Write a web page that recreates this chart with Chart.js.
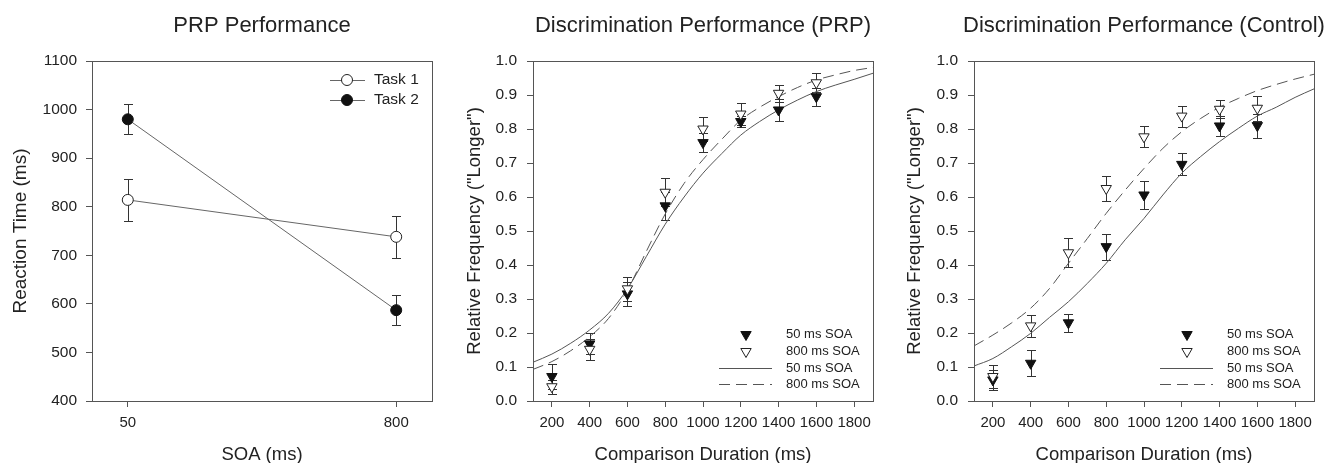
<!DOCTYPE html>
<html>
<head>
<meta charset="utf-8">
<title>PRP and discrimination performance</title>
<script src="https://cdn.jsdelivr.net/npm/chart.js@4.4.1/dist/chart.umd.min.js"></script>
<style>
    html, body { margin: 0; padding: 0; background: #fff; width: 1326px; height: 463px; overflow: hidden; }
    .panel { position: absolute; top: 0; width: 442px; height: 470px; }
</style>
</head>
<body>
<div class="panel" style="left:0px"><canvas id="prp-chart" width="442" height="470"></canvas></div>
<div class="panel" style="left:442px"><canvas id="disc-prp-chart" width="442" height="470"></canvas></div>
<div class="panel" style="left:884px"><canvas id="disc-control-chart" width="442" height="470"></canvas></div>
<script>
// --- dados: painel 1 (tempo de reação) ---
const soaLevels = [50, 800];
const soaTicks = [50, 800];
const rtTicks = [400, 500, 600, 700, 800, 900, 1000, 1100];
const task1RT = [814, 738];
const task1Err = [43, 43];
const task2RT = [980, 587];
const task2Err = [31, 31];

// --- dados: painéis 2 e 3 (discriminação) ---
const durations = [200, 400, 600, 800, 1000, 1200, 1400, 1600];
const durationTicks = [200, 400, 600, 800, 1000, 1200, 1400, 1600, 1800];
const freqTicks = [0, 0.1, 0.2, 0.3, 0.4, 0.5, 0.6, 0.7, 0.8, 0.9, 1.0];
const curveDurations = [100, 200, 300, 400, 500, 600, 700, 800, 900, 1000,
                        1100, 1200, 1300, 1400, 1500, 1600, 1700, 1800, 1900];

// PRP
const prpSoa50 = [0.072, 0.168, 0.315, 0.574, 0.760, 0.822, 0.856, 0.895];
const prpSoa50Err = [0.038, 0.031, 0.035, 0.042, 0.029, 0.016, 0.033, 0.027];
const prpSoa800 = [0.042, 0.152, 0.330, 0.614, 0.800, 0.844, 0.905, 0.936];
const prpSoa800Err = [0.020, 0.030, 0.035, 0.041, 0.035, 0.033, 0.025, 0.028];
const prpFit50 = [0.114, 0.138, 0.170, 0.209, 0.258, 0.330, 0.425, 0.520, 0.600, 0.670,
                  0.728, 0.782, 0.822, 0.856, 0.885, 0.910, 0.929, 0.946, 0.964];
const prpFit800 = [0.093, 0.116, 0.148, 0.189, 0.243, 0.326, 0.440, 0.550, 0.640, 0.710,
                   0.770, 0.826, 0.864, 0.895, 0.922, 0.944, 0.959, 0.972, 0.981];

// Controle
const ctlSoa50 = [0.062, 0.111, 0.230, 0.454, 0.606, 0.696, 0.809, 0.810];
const ctlSoa50Err = [0.030, 0.038, 0.026, 0.038, 0.041, 0.032, 0.029, 0.035];
const ctlSoa800 = [0.072, 0.221, 0.436, 0.625, 0.777, 0.838, 0.858, 0.861];
const ctlSoa800Err = [0.035, 0.033, 0.043, 0.037, 0.031, 0.031, 0.026, 0.037];
const ctlFit50 = [0.103, 0.125, 0.160, 0.199, 0.246, 0.292, 0.346, 0.405, 0.474, 0.537,
                  0.606, 0.670, 0.719, 0.763, 0.802, 0.838, 0.864, 0.893, 0.918];
const ctlFit800 = [0.162, 0.194, 0.230, 0.273, 0.331, 0.405, 0.478, 0.552, 0.620, 0.684,
                   0.743, 0.792, 0.831, 0.864, 0.890, 0.913, 0.931, 0.947, 0.961];

Chart.defaults.font.family = '"Liberation Sans", Arial, sans-serif';
Chart.defaults.color = '#222';

const AXIS_COLOR = '#555';
const pairs = (xs, ys) => xs.map((x, i) => ({ x: x, y: ys[i] }));

// desenha um marcador igual ao do Chart.js (usado na legenda)
function drawMarker(ctx, ds, x, y) {
    const r = ds.pointRadius;
    ctx.save();
    ctx.fillStyle = ds.pointBackgroundColor;
    ctx.strokeStyle = ds.pointBorderColor;
    ctx.lineWidth = ds.pointBorderWidth;
    ctx.beginPath();
    if (ds.pointStyle === 'triangle') {
        ctx.moveTo(x, y + r);
        ctx.lineTo(x - r * 0.866, y - r * 0.5);
        ctx.lineTo(x + r * 0.866, y - r * 0.5);
        ctx.closePath();
    } else {
        ctx.arc(x, y, r, 0, Math.PI * 2);
    }
    ctx.fill();
    ctx.stroke();
    ctx.restore();
}

const errorBarPlugin = {
    id: 'errorBars',
    beforeDatasetsDraw(chart, args, opts) {
        const ctx = chart.ctx;
        const xScale = chart.scales.x;
        const yScale = chart.scales.y;
        ctx.save();
        ctx.strokeStyle = '#333';
        ctx.lineWidth = 1;
        opts.sets.forEach(set => {
            chart.data.datasets[set.dataset].data.forEach((pt, i) => {
                const x = Math.round(xScale.getPixelForValue(pt.x)) + 0.5;
                const yTop = Math.round(yScale.getPixelForValue(pt.y + set.err[i])) + 0.5;
                const yBot = Math.round(yScale.getPixelForValue(pt.y - set.err[i])) + 0.5;
                ctx.beginPath();
                ctx.moveTo(x, yTop); ctx.lineTo(x, yBot);
                ctx.moveTo(x - 4.5, yTop); ctx.lineTo(x + 4.5, yTop);
                ctx.moveTo(x - 4.5, yBot); ctx.lineTo(x + 4.5, yBot);
                ctx.stroke();
            });
        });
        ctx.restore();
    }
};

// moldura completa + título centralizado sobre a área do gráfico + legenda interna
const decorPlugin = {
    id: 'decor',
    afterDraw(chart, args, opts) {
        const ctx = chart.ctx;
        const a = chart.chartArea;
        ctx.save();
        ctx.strokeStyle = AXIS_COLOR;
        ctx.lineWidth = 1;
        ctx.strokeRect(Math.round(a.left) + 0.5, Math.round(a.top) + 0.5,
                       Math.round(a.right - a.left), Math.round(a.bottom - a.top));

        ctx.fillStyle = '#222';
        ctx.font = '22px "Liberation Sans", Arial, sans-serif';
        ctx.textAlign = 'center';
        ctx.textBaseline = 'alphabetic';
        ctx.fillText(opts.title, (a.left + a.right) / 2, 31.5);

        const lg = opts.legend;
        ctx.font = lg.fontSize + 'px "Liberation Sans", Arial, sans-serif';
        ctx.textAlign = 'left';
        ctx.textBaseline = 'middle';
        lg.items.forEach((item, i) => {
            const ds = chart.data.datasets[item.dataset];
            const y = (lg.fromTop ? a.top : a.bottom) + lg.rows[i];
            if (ds.showLine) {
                ctx.save();
                ctx.strokeStyle = ds.borderColor;
                ctx.lineWidth = ds.borderWidth;
                ctx.setLineDash(ds.borderDash || []);
                ctx.beginPath();
                ctx.moveTo(a.right + lg.lineFrom, Math.round(y) + 0.5);
                ctx.lineTo(a.right + lg.lineTo, Math.round(y) + 0.5);
                ctx.stroke();
                ctx.restore();
            }
            if (ds.pointRadius > 0) {
                drawMarker(ctx, ds, a.right + lg.markerX, y);
            }
            ctx.fillStyle = '#222';
            ctx.fillText(item.label, a.right + lg.textX, y);
        });
        ctx.restore();
    }
};

function buildAxes(cfg) {
    return {
        x: {
            type: 'linear',
            min: cfg.xMin,
            max: cfg.xMax,
            afterBuildTicks: axis => { axis.ticks = cfg.xTicks.map(v => ({ value: v })); },
            afterFit: axis => { axis.height = 69; },
            ticks: { autoSkip: false, maxRotation: 0, padding: 7, color: '#222',
                     font: { size: 15 }, callback: cfg.xFormat },
            grid: { drawOnChartArea: false, tickLength: 6, color: AXIS_COLOR },
            border: { color: AXIS_COLOR },
            title: { display: true, text: cfg.xTitle, color: '#222',
                     font: { size: 18.5 }, padding: { top: 0, bottom: 4 } }
        },
        y: {
            type: 'linear',
            min: cfg.yMin,
            max: cfg.yMax,
            afterBuildTicks: axis => { axis.ticks = cfg.yTicks.map(v => ({ value: v })); },
            afterFit: axis => { axis.width = cfg.yWidth; },
            ticks: { autoSkip: false, padding: cfg.yPad, color: '#222',
                     font: { size: 15.5 }, callback: cfg.yFormat },
            grid: { drawOnChartArea: false, tickLength: 6, color: AXIS_COLOR },
            border: { color: AXIS_COLOR },
            title: { display: true, text: cfg.yTitle, color: '#222',
                     font: { size: cfg.yTitleSize }, padding: { top: 0, bottom: 0 } }
        }
    };
}

function baseOptions(cfg) {
    return {
        responsive: false,
        animation: false,
        events: [],
        layout: { padding: { top: 61, left: cfg.padLeft, right: cfg.padRight, bottom: 0 } },
        scales: buildAxes(cfg),
        plugins: {
            legend: { display: false },
            tooltip: { enabled: false },
            errorBars: { sets: cfg.errorSets },
            decor: { title: cfg.title, legend: cfg.legend }
        }
    };
}

// --- painel 1: PRP Performance ---
new Chart(document.getElementById('prp-chart'), {
    type: 'scatter',
    data: {
        datasets: [
            {
                label: 'Task 1',
                data: pairs(soaLevels, task1RT),
                showLine: true,
                borderColor: '#666',
                borderWidth: 1,
                pointStyle: 'circle',
                pointRadius: 5.5,
                pointBackgroundColor: '#fff',
                pointBorderColor: '#222',
                pointBorderWidth: 1,
                order: 1
            },
            {
                label: 'Task 2',
                data: pairs(soaLevels, task2RT),
                showLine: true,
                borderColor: '#666',
                borderWidth: 1,
                pointStyle: 'circle',
                pointRadius: 5.5,
                pointBackgroundColor: '#111',
                pointBorderColor: '#111',
                pointBorderWidth: 1,
                order: 2
            }
        ]
    },
    options: baseOptions({
        title: 'PRP Performance',
        xMin: -50, xMax: 900, xTicks: soaTicks, xTitle: 'SOA (ms)',
        xFormat: v => String(v),
        yMin: 400, yMax: 1100, yTicks: rtTicks, yTitle: 'Reaction Time (ms)', yTitleSize: 19,
        yFormat: v => String(v),
        padLeft: 9, padRight: 10, yWidth: 83, yPad: 9,
        errorSets: [{ dataset: 0, err: task1Err }, { dataset: 1, err: task2Err }],
        legend: {
            fromTop: true, fontSize: 15.5,
            rows: [19, 39], lineFrom: -102, lineTo: -67, markerX: -85, textX: -58,
            items: [{ dataset: 0, label: 'Task 1' }, { dataset: 1, label: 'Task 2' }]
        }
    }),
    plugins: [errorBarPlugin, decorPlugin]
});

// --- painéis 2 e 3: curvas psicométricas ---
function discriminationChart(canvasId, title, soa50, soa50Err, soa800, soa800Err, fit50, fit800, layout) {
    return new Chart(document.getElementById(canvasId), {
        type: 'scatter',
        data: {
            datasets: [
                {
                    label: '800 ms SOA',
                    data: pairs(durations, soa800),
                    pointStyle: 'triangle',
                    rotation: 180,
                    pointRadius: 6,
                    pointBackgroundColor: '#fff',
                    pointBorderColor: '#222',
                    pointBorderWidth: 1,
                    order: 1
                },
                {
                    label: '50 ms SOA',
                    data: pairs(durations, soa50),
                    pointStyle: 'triangle',
                    rotation: 180,
                    pointRadius: 6,
                    pointBackgroundColor: '#111',
                    pointBorderColor: '#111',
                    pointBorderWidth: 1,
                    order: 2
                },
                {
                    label: '50 ms SOA fit',
                    data: pairs(curveDurations, fit50),
                    showLine: true,
                    pointRadius: 0,
                    borderColor: '#555',
                    borderWidth: 1,
                    cubicInterpolationMode: 'monotone',
                    order: 3
                },
                {
                    label: '800 ms SOA fit',
                    data: pairs(curveDurations, fit800),
                    showLine: true,
                    pointRadius: 0,
                    borderColor: '#555',
                    borderWidth: 1,
                    borderDash: [11, 6],
                    cubicInterpolationMode: 'monotone',
                    order: 4
                }
            ]
        },
        options: baseOptions({
            title: title,
            xMin: 100, xMax: 1900, xTicks: durationTicks, xTitle: 'Comparison Duration (ms)',
            xFormat: v => String(v),
            yMin: 0, yMax: 1, yTicks: freqTicks, yTitle: 'Relative Frequency ("Longer")', yTitleSize: 18.5,
            yFormat: v => Number(v).toFixed(1),
            padLeft: layout.padLeft, padRight: layout.padRight, yWidth: layout.yWidth, yPad: 10,
            errorSets: [{ dataset: 1, err: soa50Err }, { dataset: 0, err: soa800Err }],
            legend: {
                fromTop: false, fontSize: 13,
                rows: [-66.5, -49.5, -33, -17], lineFrom: -154, lineTo: -101, markerX: -127, textX: -87,
                items: [
                    { dataset: 1, label: '50 ms SOA' },
                    { dataset: 0, label: '800 ms SOA' },
                    { dataset: 2, label: '50 ms SOA' },
                    { dataset: 3, label: '800 ms SOA' }
                ]
            }
        }),
        plugins: [errorBarPlugin, decorPlugin]
    });
}

discriminationChart('disc-prp-chart', 'Discrimination Performance (PRP)',
    prpSoa50, prpSoa50Err, prpSoa800, prpSoa800Err, prpFit50, prpFit800,
    { padLeft: 22, padRight: 11, yWidth: 69 });

discriminationChart('disc-control-chart', 'Discrimination Performance (Control)',
    ctlSoa50, ctlSoa50Err, ctlSoa800, ctlSoa800Err, ctlFit50, ctlFit800,
    { padLeft: 20, padRight: 12, yWidth: 70 });
</script>
</body>
</html>
